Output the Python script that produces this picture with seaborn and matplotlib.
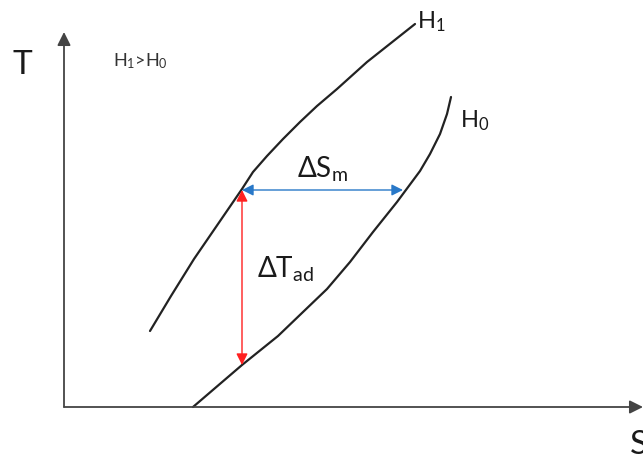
import matplotlib
matplotlib.use("Agg")
import matplotlib.pyplot as plt
import seaborn as sns
import pandas as pd

# ---- data (S, T in diagram units; origin at the axes corner) ----
h1_S = [86, 107, 130, 154, 178, 189, 203, 219, 236, 253, 273, 303, 351]
h1_T = [76, 111, 148, 183, 218, 235, 251, 268, 285, 301, 318, 345, 383]
h0_S = [129, 178, 214, 239, 263, 286, 309, 333, 356, 366, 376, 383, 387]
h0_T = [0, 42, 71, 95, 118, 145, 175, 205, 236, 253, 273, 293, 310]

dSm_T = 217          # level of the isothermal entropy change arrow
dSm_from = 178       # S on H1
dSm_to = 339         # S on H0
dTad_S = 178         # entropy of the adiabatic arrow
dTad_from = 217      # T on H1
dTad_to = 42         # T on H0

axis_S_max = 579
axis_T_max = 375

sns.set_theme(style="white")
plt.rcParams["font.family"] = ["Lato", "DejaVu Sans"]
plt.rcParams["mathtext.fontset"] = "custom"
plt.rcParams["mathtext.rm"] = "Lato"
plt.rcParams["mathtext.it"] = "Lato:italic"

df = pd.DataFrame({
    "S": h1_S + h0_S,
    "T": h1_T + h0_T,
    "curve": ["H1"] * len(h1_S) + ["H0"] * len(h0_S),
})

fig = plt.figure(figsize=(6.43, 4.56), dpi=100)
ax = fig.add_axes([0, 0, 1, 1])
ax.set_xlim(-64, 579)
ax.set_ylim(-48, 408)
ax.set_axis_off()

sns.lineplot(data=df, x="S", y="T", hue="curve",
             palette={"H1": "#222222", "H0": "#222222"},
             sort=False, estimator=None, legend=False, lw=1.6, ax=ax)
for ln in ax.get_lines():
    ln.set_solid_joinstyle("round")
    ln.set_solid_capstyle("round")

axis_col = "#444444"
ax.annotate("", xy=(0, axis_T_max), xytext=(0, 0),
            arrowprops=dict(arrowstyle="-|>", color=axis_col, lw=1.3,
                            mutation_scale=20, shrinkA=0, shrinkB=0))
ax.annotate("", xy=(axis_S_max, 0), xytext=(0, 0),
            arrowprops=dict(arrowstyle="-|>", color=axis_col, lw=1.3,
                            mutation_scale=20, shrinkA=0, shrinkB=0),
            annotation_clip=False)

ax.annotate("", xy=(dSm_to, dSm_T), xytext=(dSm_from, dSm_T),
            arrowprops=dict(arrowstyle="<|-|>", color="#2878C8", lw=1.0,
                            mutation_scale=17, shrinkA=0, shrinkB=0))
ax.annotate("", xy=(dTad_S, dTad_to), xytext=(dTad_S, dTad_from),
            arrowprops=dict(arrowstyle="<|-|>", color="#FF2020", lw=1.0,
                            mutation_scale=17, shrinkA=0, shrinkB=0))

tc = "#1a1a1a"
ax.text(-41.5, 343.5, "T", fontsize=24, ha="center", va="center", color=tc)
ax.text(566, -22, "S", fontsize=24, ha="left", va="top", color=tc)
ax.text(49, 342, r"H$_\mathrm{1}$>H$_\mathrm{0}$", fontsize=13, ha="left",
        va="baseline", color="#333333")
ax.text(353, 380, r"H$_\mathrm{1}$", fontsize=17, ha="left", va="baseline", color=tc)
ax.text(396, 281, r"H$_\mathrm{0}$", fontsize=17, ha="left", va="baseline", color=tc)
ax.text(233, 231, r"ΔS$_\mathrm{m}$", fontsize=20, ha="left", va="baseline", color=tc)
ax.text(193, 131, r"ΔT$_\mathrm{ad}$", fontsize=20, ha="left", va="baseline", color=tc)

fig.savefig("out.png", dpi=100)
